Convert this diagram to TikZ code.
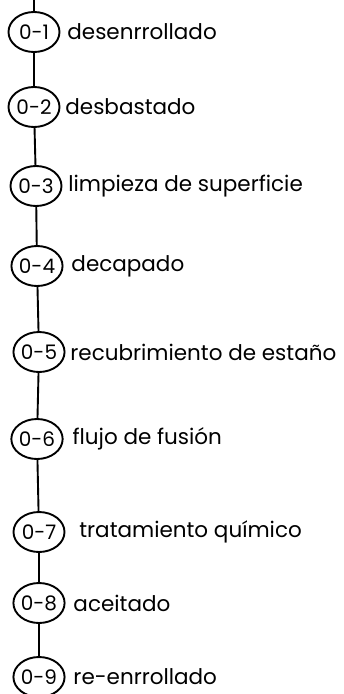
\documentclass[tikz,border=0pt]{standalone}
\usepackage{fontspec}
\setmainfont{Poppins}
\usetikzlibrary{shapes.geometric,positioning}
\tikzset{op/.style={draw, ellipse, line width=1.9pt, minimum width=51pt, minimum height=40pt, inner sep=0pt, font=\fontsize{20}{20}\selectfont},
  txt/.style={anchor=west, inner sep=0pt, font=\fontsize{21.5}{21.5}\selectfont}}
\begin{document}
\begin{tikzpicture}[x=1pt, y=-1pt, line width=1.9pt]
		\useasboundingbox (0,0) rectangle (343,694);
		\coordinate(T) at (34,0);
		\node(O1)[op] at (34,32){0-1};
		\node(O2)[op] at (34,107){0-2};
		\node(O3)[op] at (36,186){0-3};
		\node(O4)[op] at (37,266){0-4};
		\node(O5)[op] at (39,352){0-5};
		\node(O6)[op] at (37,439){0-6};
		\node(O7)[op] at (39,532){0-7};
		\node(O8)[op] at (39,603){0-8};
		\node(O9)[op] at (39,677){0-9};
		\node(L1)[txt, right=6pt of O1]{desenrrollado};
		\node(L2)[txt, right=4pt of O2]{desbastado};
		\node(L3)[txt, right=5pt of O3]{limpieza de superficie};
		\node(L4)[txt, right=7pt of O4]{decapado};
		\node(L5)[txt, right=4pt of O5]{recubrimiento de estaño};
		\node(L6)[txt, right=8pt of O6]{flujo de fusión};
		\node(L7)[txt, right=13pt of O7]{tratamiento químico};
		\node(L8)[txt, right=7pt of O8]{aceitado};
		\node(L9)[txt, right=7pt of O9]{re-enrrollado};
		\draw(T) to (O1);
		\draw(O1) to (O2);
		\draw(O2) to (O3);
		\draw(O3) to (O4);
		\draw(O4) to (O5);
		\draw(O5) to (O6);
		\draw(O6) to (O7);
		\draw(O7) to (O8);
		\draw(O8) to (O9);
	\end{tikzpicture}
\end{document}
